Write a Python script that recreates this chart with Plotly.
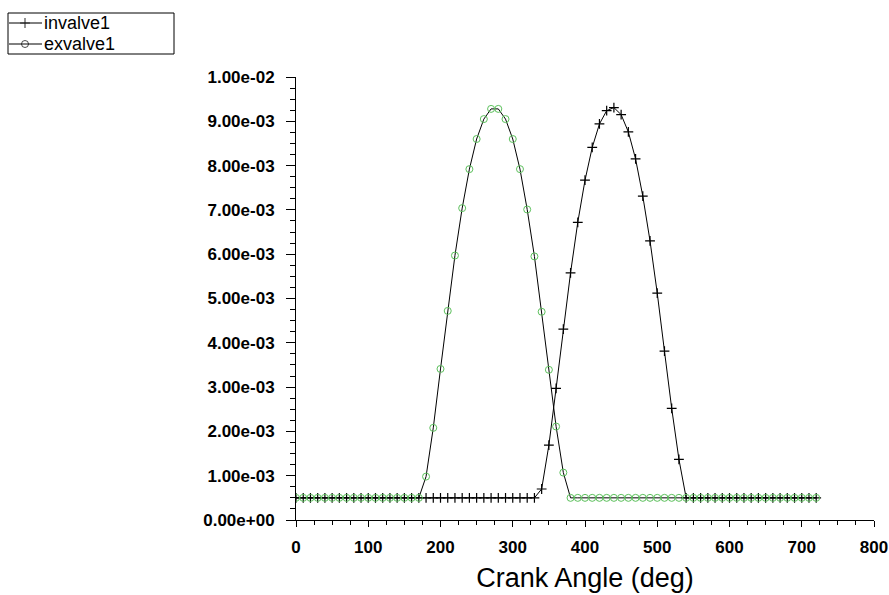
import plotly.graph_objects as go

crank_angle = list(range(0, 730, 10))

invalve1 = [
    0.0005, 0.0005, 0.0005, 0.0005, 0.0005, 0.0005, 0.0005, 0.0005, 0.0005, 0.0005,   # 0-90
    0.0005, 0.0005, 0.0005, 0.0005, 0.0005, 0.0005, 0.0005, 0.0005, 0.0005, 0.0005,   # 100-190
    0.0005, 0.0005, 0.0005, 0.0005, 0.0005, 0.0005, 0.0005, 0.0005, 0.0005, 0.0005,   # 200-290
    0.0005, 0.0005, 0.0005, 0.0005, 0.00070, 0.00169, 0.00297, 0.00431, 0.00558, 0.00672,  # 300-390
    0.00767, 0.00841, 0.00894, 0.00924, 0.00931, 0.00915, 0.00876, 0.00815, 0.00731, 0.00630,  # 400-490
    0.00512, 0.00381, 0.00252, 0.00137, 0.0005, 0.0005, 0.0005, 0.0005, 0.0005, 0.0005,  # 500-590
    0.0005, 0.0005, 0.0005, 0.0005, 0.0005, 0.0005, 0.0005, 0.0005, 0.0005, 0.0005,   # 600-690
    0.0005, 0.0005, 0.0005,                                                            # 700-720
]

exvalve1 = [
    0.0005, 0.0005, 0.0005, 0.0005, 0.0005, 0.0005, 0.0005, 0.0005, 0.0005, 0.0005,   # 0-90
    0.0005, 0.0005, 0.0005, 0.0005, 0.0005, 0.0005, 0.0005, 0.0005, 0.00098, 0.00208,  # 100-190
    0.00341, 0.00472, 0.00597, 0.00704, 0.00792, 0.00860, 0.00905, 0.00928, 0.00928, 0.00905,  # 200-290
    0.00860, 0.00792, 0.00701, 0.00595, 0.00470, 0.00339, 0.00211, 0.00107, 0.0005, 0.0005,  # 300-390
    0.0005, 0.0005, 0.0005, 0.0005, 0.0005, 0.0005, 0.0005, 0.0005, 0.0005, 0.0005,   # 400-490
    0.0005, 0.0005, 0.0005, 0.0005, 0.0005, 0.0005, 0.0005, 0.0005, 0.0005, 0.0005,   # 500-590
    0.0005, 0.0005, 0.0005, 0.0005, 0.0005, 0.0005, 0.0005, 0.0005, 0.0005, 0.0005,   # 600-690
    0.0005, 0.0005, 0.0005,                                                            # 700-720
]

x_ticks = [0, 100, 200, 300, 400, 500, 600, 700, 800]
y_ticks = [0.000, 0.001, 0.002, 0.003, 0.004, 0.005, 0.006, 0.007, 0.008, 0.009, 0.010]
y_tick_labels = ["0.00e+00", "1.00e-03", "2.00e-03", "3.00e-03", "4.00e-03", "5.00e-03",
                 "6.00e-03", "7.00e-03", "8.00e-03", "9.00e-03", "1.00e-02"]
series_names = ["invalve1", "exvalve1"]

W, H = 889, 595
GREEN = "#5cc05c"
FONT = "Liberation Sans, Arial, sans-serif"

fig = go.Figure()

fig.add_trace(go.Scatter(
    x=crank_angle, y=invalve1, name=series_names[0], mode="lines+markers",
    line=dict(color="black", width=1),
    marker=dict(symbol="cross-thin-open", size=7, line=dict(color="black", width=1.2), color="black"),
    showlegend=False))
fig.add_trace(go.Scatter(
    x=crank_angle, y=exvalve1, name=series_names[1], mode="lines+markers",
    line=dict(color="black", width=1),
    marker=dict(symbol="circle-open", size=7, line=dict(color=GREEN, width=1), color=GREEN),
    showlegend=False))

# custom legend drawn on a hidden pixel-scaled axis pair
leg_rows = [23, 44]
fig.add_trace(go.Scatter(
    x=[9, 25, 42], y=[leg_rows[0]] * 3, mode="lines+markers", xaxis="x2", yaxis="y2",
    line=dict(color="black", width=1),
    marker=dict(symbol="cross-thin-open", size=[0, 7, 0], line=dict(color="black", width=1.2)),
    showlegend=False, hoverinfo="skip"))
fig.add_trace(go.Scatter(
    x=[9, 25, 42], y=[leg_rows[1]] * 3, mode="lines+markers", xaxis="x2", yaxis="y2",
    line=dict(color="black", width=1),
    marker=dict(symbol="circle-open", size=[0, 7, 0], line=dict(color=GREEN, width=1)),
    showlegend=False, hoverinfo="skip"))

annotations = []
for name, row in zip(series_names, leg_rows):
    annotations.append(dict(x=43, y=row, xref="x2", yref="y2", text=name, showarrow=False,
                            xanchor="left", yanchor="middle", borderpad=0,
                            font=dict(family=FONT, size=18, color="black")))

fig.update_layout(
    width=W, height=H, autosize=False,
    margin=dict(l=0, r=0, t=0, b=0, pad=0, autoexpand=False),
    paper_bgcolor="white", plot_bgcolor="white",
    showlegend=False,
    annotations=annotations,
    shapes=[dict(type="rect", xref="x2", yref="y2", x0=8, x1=174, y0=13, y1=54,
                 line=dict(color="black", width=1), fillcolor="rgba(0,0,0,0)")],
    xaxis=dict(
        domain=[296 / W, 874 / W], range=[0, 800], anchor="y", automargin=False,
        tickvals=x_ticks, ticktext=[str(v) for v in x_ticks],
        ticks="outside", ticklen=6, tickcolor="black", tickwidth=1,
        showline=True, linecolor="black", linewidth=1,
        showgrid=False, zeroline=False,
        minor=dict(dtick=25, tick0=0, ticks="outside", ticklen=4, tickcolor="black", showgrid=False),
        tickfont=dict(family=FONT, size=17, color="black", weight="bold"),
        ticklabelstandoff=6,
        title=dict(text="Crank Angle (deg)", standoff=11,
                   font=dict(family=FONT, size=27, color="black")),
    ),
    yaxis=dict(
        domain=[(H - 520) / H, (H - 77) / H], range=[0, 0.01], anchor="x", automargin=False,
        tickvals=y_ticks, ticktext=y_tick_labels,
        ticks="outside", ticklen=9, tickcolor="black", tickwidth=1,
        showline=True, linecolor="black", linewidth=1,
        showgrid=False, zeroline=False,
        minor=dict(dtick=0.00025, tick0=0, ticks="outside", ticklen=5, tickcolor="black", showgrid=False),
        tickfont=dict(family=FONT, size=17, color="black", weight="bold"),
        ticklabelstandoff=8,
    ),
    xaxis2=dict(domain=[0, 200 / W], range=[0, 200], visible=False, anchor="y2", fixedrange=True),
    yaxis2=dict(domain=[1 - 60 / H, 1], range=[60, 0], visible=False, anchor="x2", fixedrange=True),
)

fig.write_html("out.html", config={"displayModeBar": False},
               post_script="document.body.style.margin='0';")
